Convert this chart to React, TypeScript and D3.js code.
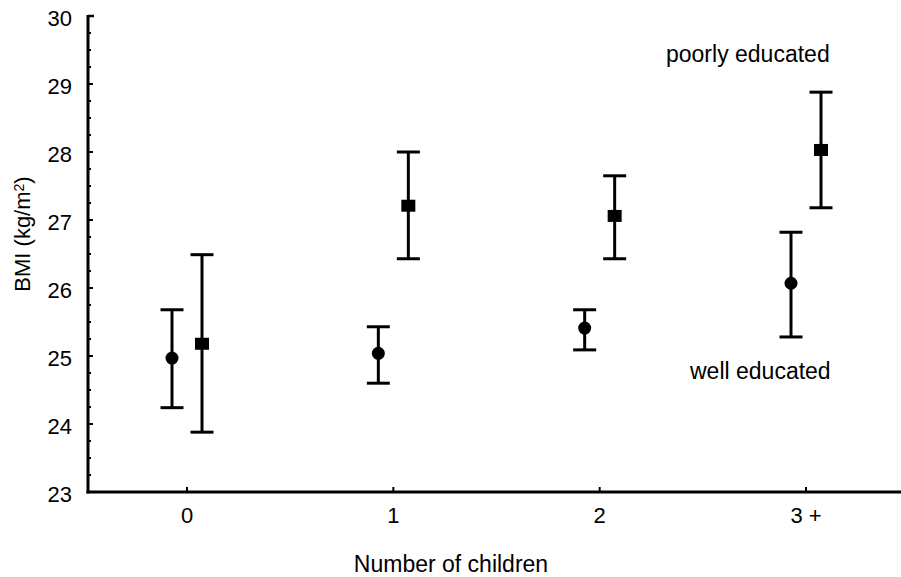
import * as d3 from 'd3';
import { useRef, useEffect } from 'react';

const categories = ['0', '1', '2', '3 +'];
const wellMean = [24.97, 25.04, 25.41, 26.07];
const wellLow = [24.24, 24.6, 25.09, 25.28];
const wellHigh = [25.68, 25.43, 25.68, 26.82];
const poorMean = [25.18, 27.21, 27.06, 28.03];
const poorLow = [23.88, 26.43, 26.43, 27.18];
const poorHigh = [26.49, 28.0, 27.65, 28.88];
const yTicks = [23, 24, 25, 26, 27, 28, 29, 30];

const App = () => {
  const svgRef = useRef();

  useEffect(() => {
    const svg = d3.select(svgRef.current);
    const width = 901;
    const height = 577;
    const font = 'Liberation Sans, Arial, sans-serif';

    svg.attr('width', width).attr('height', height);
    svg.selectAll('*').remove();

    const x = d3.scalePoint()
      .domain(categories)
      .range([187, 806]);

    const y = d3.scaleLinear()
      .domain([23, 30])
      .range([492, 16]);

    const left = 88;
    const bottom = y(23);

    // y axis with minor ticks every 0.25
    const minor = d3.range(23, 30.01, 0.25);
    svg.append('g').selectAll('line')
      .data(minor)
      .enter().append('line')
      .attr('x1', left)
      .attr('x2', d => left + (Number.isInteger(d) ? 5 : 3))
      .attr('y1', d => y(d))
      .attr('y2', d => y(d))
      .attr('stroke', '#000')
      .attr('stroke-width', 2);

    svg.append('line')
      .attr('x1', left).attr('x2', left)
      .attr('y1', y(30) - 1).attr('y2', bottom + 1.5)
      .attr('stroke', '#000').attr('stroke-width', 3);

    svg.append('line')
      .attr('x1', left).attr('x2', left + 6)
      .attr('y1', y(30)).attr('y2', y(30))
      .attr('stroke', '#000').attr('stroke-width', 2.5);

    svg.append('g').selectAll('text')
      .data(yTicks)
      .enter().append('text')
      .attr('x', 72)
      .attr('y', d => y(d) + 2)
      .attr('dy', '0.35em')
      .attr('text-anchor', 'end')
      .style('font-family', font)
      .style('font-size', '22px')
      .text(d => d);

    // x axis
    svg.append('line')
      .attr('x1', left - 1.5).attr('x2', width)
      .attr('y1', bottom).attr('y2', bottom)
      .attr('stroke', '#000').attr('stroke-width', 3);

    svg.append('g').selectAll('line')
      .data(categories)
      .enter().append('line')
      .attr('x1', d => x(d)).attr('x2', d => x(d))
      .attr('y1', bottom).attr('y2', bottom - 5)
      .attr('stroke', '#000').attr('stroke-width', 2);

    svg.append('g').selectAll('text')
      .data(categories)
      .enter().append('text')
      .attr('x', d => x(d))
      .attr('y', 523)
      .attr('text-anchor', 'middle')
      .style('font-family', font)
      .style('font-size', '22px')
      .text(d => d);

    svg.append('text')
      .attr('x', 451)
      .attr('y', 572)
      .attr('text-anchor', 'middle')
      .style('font-family', font)
      .style('font-size', '23px')
      .text('Number of children');

    const yLabel = svg.append('text')
      .attr('transform', 'translate(30,234) rotate(-90)')
      .attr('text-anchor', 'middle')
      .style('font-family', font)
      .style('font-size', '22px');
    yLabel.append('tspan').text('BMI (kg/m');
    yLabel.append('tspan').attr('dy', '-0.45em').style('font-size', '14px').text('2');
    yLabel.append('tspan').attr('dy', '0.3em').text(')');

    // series
    const series = [
      { mean: wellMean, low: wellLow, high: wellHigh, offset: -15, shape: 'circle' },
      { mean: poorMean, low: poorLow, high: poorHigh, offset: 15, shape: 'square' }
    ];
    const capHalf = 11.5;

    series.forEach(s => {
      const pts = categories.map((c, i) => ({
        cx: x(c) + s.offset, m: s.mean[i], lo: s.low[i], hi: s.high[i]
      }));
      const g = svg.append('g');
      g.selectAll('line.stem').data(pts).enter().append('line')
        .attr('x1', d => d.cx).attr('x2', d => d.cx)
        .attr('y1', d => y(d.hi)).attr('y2', d => y(d.lo))
        .attr('stroke', '#000').attr('stroke-width', 3);
      g.selectAll('line.hi').data(pts).enter().append('line')
        .attr('x1', d => d.cx - capHalf).attr('x2', d => d.cx + capHalf)
        .attr('y1', d => y(d.hi)).attr('y2', d => y(d.hi))
        .attr('stroke', '#000').attr('stroke-width', 3);
      g.selectAll('line.lo').data(pts).enter().append('line')
        .attr('x1', d => d.cx - capHalf).attr('x2', d => d.cx + capHalf)
        .attr('y1', d => y(d.lo)).attr('y2', d => y(d.lo))
        .attr('stroke', '#000').attr('stroke-width', 3);
      if (s.shape === 'circle') {
        g.selectAll('circle').data(pts).enter().append('circle')
          .attr('cx', d => d.cx).attr('cy', d => y(d.m)).attr('r', 6.5)
          .attr('fill', '#000');
      } else {
        g.selectAll('rect').data(pts).enter().append('rect')
          .attr('x', d => d.cx - 7).attr('y', d => y(d.m) - 6)
          .attr('width', 14).attr('height', 12)
          .attr('fill', '#000');
      }
    });

    svg.append('text')
      .attr('x', 666).attr('y', 62)
      .style('font-family', font).style('font-size', '23px')
      .text('poorly educated');

    svg.append('text')
      .attr('x', 690).attr('y', 379)
      .style('font-family', font).style('font-size', '23px')
      .text('well educated');
  }, []);

  return (
    <div style={{ position: 'absolute', left: 0, top: 0 }}>
      <svg ref={svgRef}></svg>
    </div>
  );
};

export default App;
